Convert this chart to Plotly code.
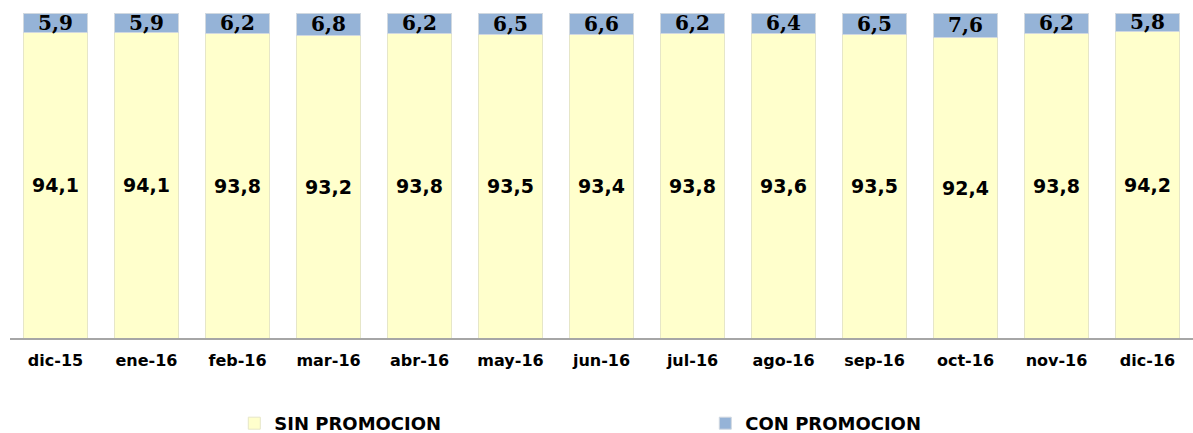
import plotly.graph_objects as go

categories = ["dic-15", "ene-16", "feb-16", "mar-16", "abr-16", "may-16", "jun-16",
              "jul-16", "ago-16", "sep-16", "oct-16", "nov-16", "dic-16"]
sin_promocion = [94.1, 94.1, 93.8, 93.2, 93.8, 93.5, 93.4, 93.8, 93.6, 93.5, 92.4, 93.8, 94.2]
con_promocion = [5.9, 5.9, 6.2, 6.8, 6.2, 6.5, 6.6, 6.2, 6.4, 6.5, 7.6, 6.2, 5.8]


def fmt(v):
    return f"{v:.1f}".replace(".", ",")


fig = go.Figure()
fig.add_trace(go.Bar(
    x=categories, y=sin_promocion, name="SIN PROMOCION",
    marker=dict(color="#FFFFCC", line=dict(color="#E6E6C8", width=1)),
    text=[fmt(v) for v in sin_promocion], textposition="inside",
    insidetextanchor="middle", constraintext="none",
    textfont=dict(family="DejaVu Sans", size=19, color="#000000", weight="bold"),
))
fig.add_trace(go.Bar(
    x=categories, y=con_promocion, name="CON PROMOCION",
    marker=dict(color="#95B3D7", line=dict(color="#D0D8E0", width=1)),
    text=[fmt(v) for v in con_promocion], textposition="inside",
    insidetextanchor="middle", constraintext="none",
    textfont=dict(family="DejaVu Serif", size=20, color="#000000", weight="bold"),
))

fig.update_layout(
    width=1193, height=433,
    barmode="stack", bargap=0.29,
    plot_bgcolor="white", paper_bgcolor="white",
    margin=dict(l=10, r=0, t=13, b=95, autoexpand=False),
    showlegend=True,
    legend=dict(orientation="h", x=0.1896, y=-0.263, xanchor="left", yanchor="middle",
                traceorder="normal",
                entrywidth=426, entrywidthmode="pixels",
                font=dict(family="DejaVu Sans", size=18, color="#000000", weight="bold")),
)
fig.update_xaxes(showline=True, linecolor="#A6A6A6", linewidth=2, ticks="",
                 ticklabelstandoff=7,
                 tickfont=dict(family="DejaVu Sans", size=16, color="#000000", weight="bold"),
                 showgrid=False)
fig.update_yaxes(range=[0, 100], visible=False, showgrid=False)

fig.write_html("out.html", config={"displayModeBar": False},
               post_script="document.body.style.margin='0';")
